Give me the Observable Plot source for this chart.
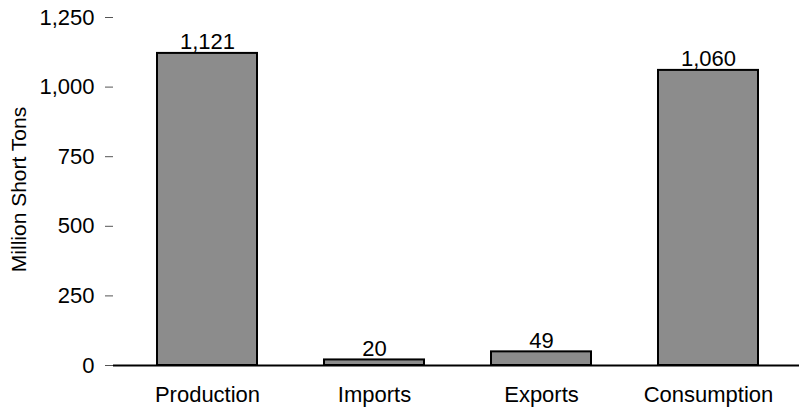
<!DOCTYPE html>
<html>
<head>
<meta charset="utf-8">
<script src="https://cdn.jsdelivr.net/npm/d3@7"></script>
<script src="https://cdn.jsdelivr.net/npm/@observablehq/plot@0.6"></script>
<style>
  html, body { margin: 0; padding: 0; background: #fff; }
  svg { font-family: "Liberation Sans", Arial, sans-serif; }
</style>
</head>
<body>
<div id="chart"></div>
<script>
const categories = ["Production", "Imports", "Exports", "Consumption"];
const values = [1121, 20, 49, 1060];
const yTicks = [0, 250, 500, 750, 1000, 1250];
const yLabel = "Million Short Tons";

const data = categories.map((c, i) => ({category: c, value: values[i]}));
const fmt = d3.format(",");

const chart = Plot.plot({
  width: 799,
  height: 409,
  marginLeft: 113,
  marginRight: 0,
  marginTop: 17,
  marginBottom: 44,
  style: {fontFamily: "Liberation Sans, Arial, sans-serif", fontSize: "22px", color: "#000", background: "#fff"},
  x: {domain: categories, paddingInner: 0.4, paddingOuter: 0.2, insetLeft: 11, insetRight: 7, label: null},
  y: {domain: [0, 1250], label: null},
  marks: [
    Plot.axisY({ticks: yTicks, tickFormat: fmt, tickSize: 8, tickPadding: 11, stroke: "#555", fill: "#000", label: null, fontSize: 22}),
    Plot.axisX({tickSize: 0, tickPadding: 21, label: null, fontSize: 22}),
    Plot.barY(data, {x: "category", y: "value", fill: "#8c8c8c", stroke: "#000", strokeWidth: 2}),
    Plot.ruleY([0], {stroke: "#000", strokeWidth: 2}),
    Plot.text(data, {x: "category", y: "value", text: d => fmt(d.value), lineAnchor: "bottom", dy: -4, fontSize: 22, fill: "#000"}),
    Plot.text([yLabel], {frameAnchor: "left", textAnchor: "middle", text: d => d, rotate: -90, dx: -94, dy: -2, fontSize: 21, fill: "#000"})
  ]
});
document.getElementById("chart").appendChild(chart);
</script>
</body>
</html>
